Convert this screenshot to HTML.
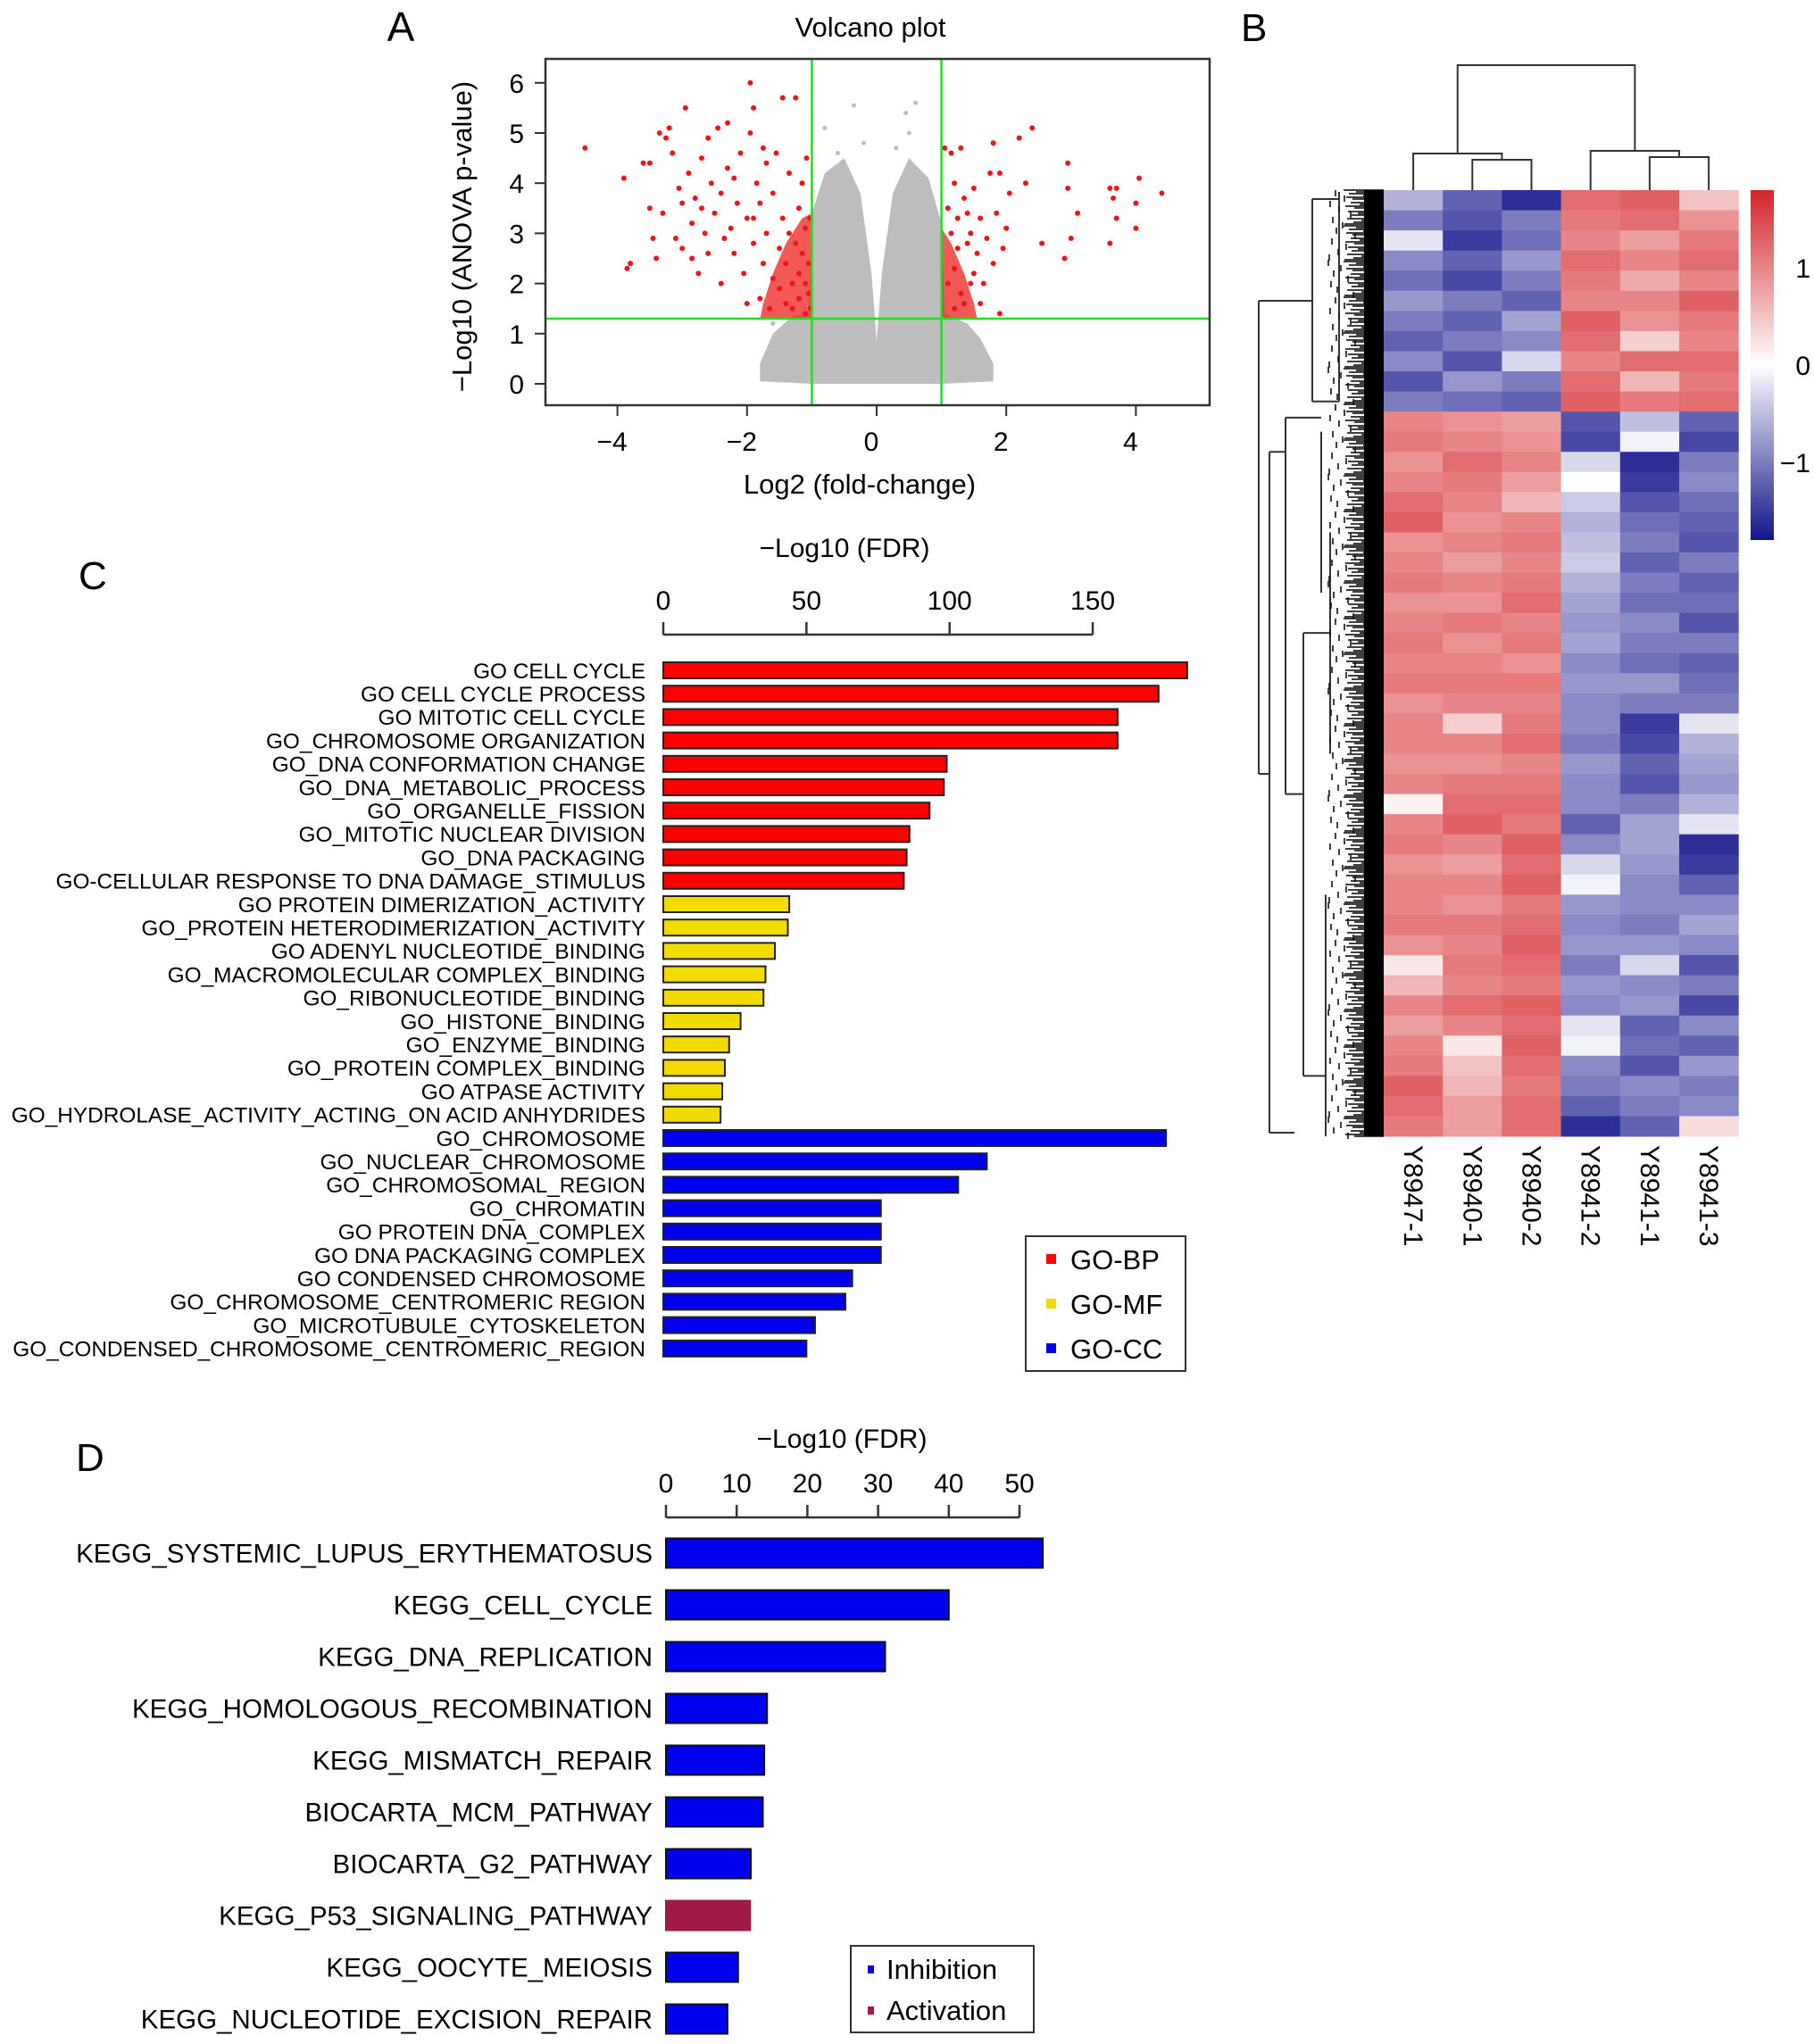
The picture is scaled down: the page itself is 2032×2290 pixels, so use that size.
<!DOCTYPE html>
<html><head><meta charset="utf-8">
<style>
html,body{margin:0;padding:0;background:#fff;}
svg{display:block;font-family:"Liberation Sans",Arial,sans-serif;}
</style></head>
<body>
<svg id="fig" width="2032" height="2290" viewBox="0 0 2032 2290" xmlns="http://www.w3.org/2000/svg">
<g id="pA"></g>
<g id="pB"></g>
<g id="pC"></g>
<g id="pD"></g>
</svg>
<script>
// ---------- Panel A data ----------
const volXTicks = [-4,-2,0,2,4];
const volYTicks = [0,1,2,3,4,5,6];
const volFCThreshold = [-1,1];
const volPThreshold = [1.3];
const grayEnvelope = [[-1.8,0.05],[-1.8,0.4],[-1.6,1.0],[-1.3,1.35],[-1.05,1.4],[-1.0,3.4],[-0.8,4.2],[-0.5,4.5],[-0.25,3.8],[-0.08,2.2],[0,0.85],[0.08,2.2],[0.25,3.8],[0.5,4.5],[0.8,4.1],[1.0,3.2],[1.05,1.4],[1.4,1.2],[1.6,0.9],[1.8,0.4],[1.8,0.05],[1.0,0],[-1.0,0]];
const grayPoints = [[-0.35,5.55],[0.45,5.4],[0.6,5.6],[0.5,5.0],[-0.8,5.1],[-0.2,4.8],[0.3,4.7],[-0.6,4.6],[1.7,0.2],[-1.7,0.3],[1.5,0.9],[-1.6,1.2]];
const redDenseLeft = [[-1.0,1.3],[-1.0,3.4],[-1.15,3.3],[-1.4,2.8],[-1.6,2.2],[-1.75,1.6],[-1.8,1.3]];
const redDenseRight = [[1.0,1.3],[1.0,3.1],[1.15,2.8],[1.35,2.2],[1.5,1.6],[1.55,1.3]];
const redPoints = [[-4.5,4.7],[-3.9,4.1],[-3.85,2.3],[-3.8,2.4],[-3.6,4.4],[-3.5,4.4],[-3.5,3.5],[-3.45,2.9],[-3.4,2.5],[-3.35,5.0],[-3.3,3.4],[-3.25,4.9],[-3.2,5.1],[-3.1,2.9],[-3.05,3.9],[-3.0,2.7],[-2.95,5.5],[-2.9,4.2],[-2.85,3.2],[-2.8,3.7],[-2.75,2.2],[-2.7,4.5],[-2.65,3.0],[-2.6,2.6],[-2.55,4.0],[-2.5,3.4],[-2.45,5.1],[-2.4,3.8],[-2.4,2.0],[-2.3,4.3],[-2.3,5.2],[-2.25,3.1],[-2.2,2.6],[-2.15,3.6],[-2.1,4.6],[-2.05,2.2],[-2.0,3.3],[-1.95,5.0],[-1.95,6.0],[-1.9,5.5],[-1.9,2.8],[-1.85,4.0],[-1.8,1.7],[-1.8,3.6],[-1.75,2.4],[-1.7,4.4],[-1.7,3.0],[-1.65,1.5],[-1.6,2.1],[-1.6,3.8],[-1.55,4.6],[-1.5,2.7],[-1.5,1.9],[-1.45,3.3],[-1.45,5.7],[-1.4,1.6],[-1.4,2.4],[-1.35,3.0],[-1.35,4.2],[-1.3,2.0],[-1.3,1.5],[-1.25,5.7],[-1.25,2.8],[-1.2,3.5],[-1.2,2.2],[-1.2,1.7],[-1.15,4.0],[-1.15,2.6],[-1.1,1.4],[-1.1,3.1],[-1.1,2.0],[-1.08,4.5],[-1.05,2.4],[-1.05,1.8],[-1.03,3.3],[-1.02,1.5],[-2.6,4.9],[-2.2,4.1],[-1.75,4.7],[-2.85,2.5],[-3.15,4.6],[-2.0,1.6],[-2.35,2.9],[-1.9,3.3],[-2.7,3.5],[-3.0,3.6],
[1.05,4.7],[1.1,3.5],[1.15,4.6],[1.2,2.3],[1.25,3.3],[1.3,4.7],[1.3,1.8],[1.35,3.7],[1.4,2.8],[1.45,3.0],[1.5,2.2],[1.5,3.9],[1.55,2.6],[1.6,1.6],[1.6,3.3],[1.65,2.0],[1.7,2.9],[1.75,4.2],[1.8,4.8],[1.8,2.4],[1.85,3.4],[1.9,4.2],[1.9,1.4],[1.95,2.7],[2.0,3.1],[2.05,3.8],[2.2,4.9],[2.3,4.0],[2.4,5.1],[2.55,2.8],[2.9,2.5],[2.95,3.9],[2.95,4.4],[3.0,2.9],[3.1,3.4],[3.6,3.9],[3.6,2.8],[3.65,3.7],[3.7,3.3],[3.7,3.9],[4.0,3.6],[4.0,3.1],[4.05,4.1],[4.4,3.8],[1.1,2.0],[1.2,1.5],[1.25,2.7],[1.35,1.6],[1.15,3.0],[1.45,2.0],[1.2,4.0],[1.4,3.4]];

// ---------- Panel B data ----------
const sampleLabels = ["Y8947-1","Y8940-1","Y8940-2","Y8941-2","Y8941-1","Y8941-3"];
const colorbarTicks = [1,0,-1];
const heatRows = [
[-0.6,-1.2,-1.6,1.2,1.3,0.5],
[-1.0,-1.3,-1.0,1.1,1.2,0.9],
[-0.2,-1.5,-1.1,1.0,0.8,1.1],
[-0.9,-1.2,-0.8,1.2,1.0,1.2],
[-1.1,-1.4,-1.0,1.1,0.7,1.0],
[-0.8,-1.0,-1.2,1.0,1.0,1.3],
[-1.0,-1.2,-0.7,1.3,0.9,1.1],
[-1.2,-1.0,-0.9,1.2,0.4,1.0],
[-0.9,-1.3,-0.3,1.0,1.2,1.2],
[-1.3,-0.8,-1.0,1.2,0.6,1.1],
[-1.0,-1.1,-1.2,1.3,1.1,1.2],
[1.0,0.9,0.8,-1.3,-0.5,-1.2],
[1.1,1.0,0.9,-1.4,-0.1,-1.4],
[0.9,1.2,1.0,-0.3,-1.6,-1.0],
[1.0,1.1,0.8,0.0,-1.5,-0.9],
[1.2,1.0,0.6,-0.4,-1.3,-1.1],
[1.3,0.9,1.0,-0.6,-1.1,-1.2],
[0.9,1.0,1.1,-0.5,-1.0,-1.3],
[1.0,0.8,1.0,-0.4,-1.2,-1.0],
[1.1,1.0,1.1,-0.6,-1.0,-1.2],
[0.9,0.9,1.2,-0.7,-1.1,-1.1],
[1.0,1.1,1.0,-0.8,-0.9,-1.3],
[1.1,0.9,1.1,-0.7,-1.0,-1.0],
[1.0,1.0,0.9,-0.9,-1.1,-1.2],
[1.1,1.1,1.1,-0.8,-0.8,-1.1],
[0.9,1.0,1.0,-0.9,-1.0,-1.0],
[1.0,0.4,1.1,-0.9,-1.5,-0.2],
[1.0,1.0,1.2,-1.0,-1.4,-0.6],
[0.9,0.9,1.0,-0.8,-1.2,-0.7],
[1.0,1.1,1.1,-0.9,-1.3,-0.8],
[0.1,1.2,1.2,-0.9,-1.0,-0.6],
[1.0,1.3,1.1,-1.2,-0.7,-0.2],
[1.1,1.0,1.3,-0.9,-0.7,-1.6],
[0.9,0.8,1.2,-0.3,-0.8,-1.5],
[1.0,1.0,1.3,-0.1,-0.9,-1.2],
[1.0,0.9,1.1,-0.8,-0.9,-0.9],
[1.1,1.1,1.2,-0.9,-1.0,-0.7],
[0.9,1.0,1.3,-0.8,-0.8,-0.9],
[0.2,1.1,1.2,-1.0,-0.3,-1.3],
[0.6,1.0,1.1,-0.8,-0.9,-1.0],
[1.0,1.2,1.3,-0.9,-0.8,-1.4],
[0.8,1.0,1.2,-0.2,-1.2,-0.9],
[1.0,0.2,1.3,-0.1,-1.1,-1.2],
[1.1,0.5,1.2,-0.9,-1.3,-0.8],
[1.3,0.6,1.1,-1.0,-0.9,-1.0],
[1.2,0.8,1.2,-1.2,-1.0,-0.9],
[1.1,0.8,1.2,-1.6,-1.2,0.3]];

// ---------- Panel C data ----------
const goTerms = ["GO CELL CYCLE","GO CELL CYCLE PROCESS","GO MITOTIC CELL CYCLE","GO_CHROMOSOME ORGANIZATION","GO_DNA CONFORMATION CHANGE","GO_DNA_METABOLIC_PROCESS","GO_ORGANELLE_FISSION","GO_MITOTIC NUCLEAR DIVISION","GO_DNA PACKAGING","GO-CELLULAR RESPONSE TO DNA DAMAGE_STIMULUS","GO PROTEIN DIMERIZATION_ACTIVITY","GO_PROTEIN HETERODIMERIZATION_ACTIVITY","GO ADENYL NUCLEOTIDE_BINDING","GO_MACROMOLECULAR COMPLEX_BINDING","GO_RIBONUCLEOTIDE_BINDING","GO_HISTONE_BINDING","GO_ENZYME_BINDING","GO_PROTEIN COMPLEX_BINDING","GO ATPASE ACTIVITY","GO_HYDROLASE_ACTIVITY_ACTING_ON ACID ANHYDRIDES","GO_CHROMOSOME","GO_NUCLEAR_CHROMOSOME","GO_CHROMOSOMAL_REGION","GO_CHROMATIN","GO PROTEIN DNA_COMPLEX","GO DNA PACKAGING COMPLEX","GO CONDENSED CHROMOSOME","GO_CHROMOSOME_CENTROMERIC REGION","GO_MICROTUBULE_CYTOSKELETON","GO_CONDENSED_CHROMOSOME_CENTROMERIC_REGION"];
const goValues = [183,173,158.7,158.7,99,98,93,86,85,84,44,43.5,39,35.7,35,27,23,21.5,20.6,20,175.6,113,103,76,76,76,66,63.6,53,50];
const goCategory = ["BP","BP","BP","BP","BP","BP","BP","BP","BP","BP","MF","MF","MF","MF","MF","MF","MF","MF","MF","MF","CC","CC","CC","CC","CC","CC","CC","CC","CC","CC"];
const goTicks = [0,50,100,150];
const goLegend = ["GO-BP","GO-MF","GO-CC"];

// ---------- Panel D data ----------
const keggTerms = ["KEGG_SYSTEMIC_LUPUS_ERYTHEMATOSUS","KEGG_CELL_CYCLE","KEGG_DNA_REPLICATION","KEGG_HOMOLOGOUS_RECOMBINATION","KEGG_MISMATCH_REPAIR","BIOCARTA_MCM_PATHWAY","BIOCARTA_G2_PATHWAY","KEGG_P53_SIGNALING_PATHWAY","KEGG_OOCYTE_MEIOSIS","KEGG_NUCLEOTIDE_EXCISION_REPAIR"];
const keggValues = [53.3,40,31,14.3,13.9,13.7,12,11.9,10.2,8.7];
const keggDirection = ["Inhibition","Inhibition","Inhibition","Inhibition","Inhibition","Inhibition","Inhibition","Activation","Inhibition","Inhibition"];
const keggTicks = [0,10,20,30,40,50];
const keggLegend = ["Inhibition","Activation"];

const NS="http://www.w3.org/2000/svg";
function mk(parent,tag,attrs,text){const e=document.createElementNS(NS,tag);for(const k in attrs)e.setAttribute(k,attrs[k]);if(text!==undefined)e.textContent=text;parent.appendChild(e);return e;}

// ===== Panel A =====
(function(){
const g=document.getElementById('pA');
const X=v=>982+v*72.6, Y=v=>430-v*56.2;
const L=611,R=1355,T=66,B=454;
let t=mk(g,'text',{x:449,y:46,'font-size':46,'text-anchor':'middle'},'A');

t=mk(g,'text',{x:975,y:41,'font-size':31,'text-anchor':'middle'},'Volcano plot');

let p=mk(g,'polygon',{points:grayEnvelope.map(d=>X(d[0])+','+Y(d[1])).join(' '),fill:'#bdbdbd'});

grayPoints.forEach(d=>{const c=mk(g,'circle',{cx:X(d[0]),cy:Y(d[1]),r:2.5,fill:'#bdbdbd'});});
[redDenseLeft,redDenseRight].forEach(arr=>{const q=mk(g,'polygon',{points:arr.map(d=>X(d[0])+','+Y(d[1])).join(' '),fill:'#ee2020','fill-opacity':0.75});});
redPoints.forEach(d=>{const c=mk(g,'circle',{cx:X(d[0]),cy:Y(d[1]),r:3,fill:'#f01515'});});
volFCThreshold.forEach(v=>{const l=mk(g,'line',{x1:X(v),x2:X(v),y1:T,y2:B,stroke:'#22dd22','stroke-width':2.5});});
volPThreshold.forEach(v=>{const l=mk(g,'line',{x1:L,x2:R,y1:Y(v),y2:Y(v),stroke:'#22dd22','stroke-width':2.5});});
let r=mk(g,'rect',{x:L,y:T,width:R-L,height:B-T,fill:'none',stroke:'#333','stroke-width':2.5});

volXTicks.forEach(v=>{mk(g,'line',{x1:X(v),x2:X(v),y1:B,y2:B+12,stroke:'#333','stroke-width':2});const s=mk(g,'text',{x:X(v)-6,y:505,'font-size':30,'text-anchor':'middle'},(v<0?'\u2212':'')+Math.abs(v));});
volYTicks.forEach(v=>{mk(g,'line',{x1:L-12,x2:L,y1:Y(v),y2:Y(v),stroke:'#333','stroke-width':2});const s=mk(g,'text',{x:587,y:Y(v)+11,'font-size':30,'text-anchor':'end'},v);});
t=mk(g,'text',{x:963,y:553,'font-size':31,'text-anchor':'middle'},'Log2 (fold-change)');

t=mk(g,'text',{x:0,y:0,'font-size':31,'text-anchor':'middle',transform:'translate(528,265) rotate(-90)'},'\u2212Log10 (ANOVA p-value)');

})();

// ===== Panel B =====
(function(){
const g=document.getElementById('pB');
const HX=1550,HT=213,HB=1273,CW=66.2;
const rh=(HB-HT)/heatRows.length;
function col(v){const m=Math.max(-1.8,Math.min(1.8,v))/1.8;let c;if(m>=0){c=[255+(212-255)*m,255+(36-255)*m,255+(40-255)*m];}else{const a=-m;c=[255+(20-255)*a,255+(20-255)*a,255+(140-255)*a];}return 'rgb('+c.map(Math.round).join(',')+')';}
let t=mk(g,'text',{x:1390,y:46,'font-size':44},'B');

heatRows.forEach((row,i)=>{row.forEach((v,j)=>{const c=mk(g,'rect',{x:HX+j*CW,y:HT+i*rh,width:CW+0.5,height:rh+0.5,fill:col(v)});});});
const cx=j=>HX+(j+0.5)*CW;
const dpath=`M${cx(0)},${HT} V172 H${(cx(1)+cx(2))/2} V179 M${cx(1)},${HT} V179 H${cx(2)} V${HT}
M${(cx(0)+(cx(1)+cx(2))/2)/2},172 V73 H${(cx(3)+(cx(4)+cx(5))/2)/2} V169
M${cx(3)},${HT} V169 H${(cx(4)+cx(5))/2} V176 M${cx(4)},${HT} V176 H${cx(5)} V${HT}`;
let d=mk(g,'path',{d:dpath,fill:'none',stroke:'#333','stroke-width':2});

const topMid=HT+5.5*rh, botMid=HT+(11+18)*rh;
const rpath=`M1410,${topMid} V${botMid} M1410,${topMid} H1470 M1410,${botMid} H1422
M1470,${HT+10} V${HT+10.5*rh} M1470,${HT+10} H1500 M1470,${HT+10.5*rh} H1500
M1422,${HT+13*rh} V${HB-4} M1422,${HT+13*rh} H1440 M1422,${HB-4} H1450
M1440,${HT+11.3*rh} V${HT+30*rh} M1440,${HT+11.3*rh} H1480 M1440,${HT+30*rh} H1460
M1460,${HT+22*rh} V${HT+44*rh} M1460,${HT+22*rh} H1490 M1460,${HT+44*rh} H1485
M1480,${HT+12*rh} V${HT+20*rh} M1490,${HT+17*rh} V${HT+28*rh} M1485,${HT+35*rh} V${HT+47*rh}
M1500,${HT+2} V${HT+6*rh} M1500,${HT+6*rh} V${HT+10.5*rh}`;
d=mk(g,'path',{d:rpath,fill:'none',stroke:'#333','stroke-width':2});

const leaves=mk(g,'g',{});

const offs=[0,14,6,22,3,10,28,8,18,2,12,25,5,16,9,30,4,20,11,1];
for(let y=HT,k=0;y<=HB;y+=2,k++){mk(leaves,'line',{x1:1505+offs[k%offs.length],x2:HX,y1:y,y2:y,stroke:'#000','stroke-width':1.4});}
mk(leaves,'rect',{x:1528,y:HT,width:HX-1528,height:HB-HT,fill:'#000'});
for(let y=HT,k=0;y<=HB;y+=6,k++){mk(leaves,'line',{x1:1488+offs[(k+7)%offs.length],x2:1488+offs[(k+7)%offs.length],y1:y,y2:y+7,stroke:'#111','stroke-width':1.6});}
sampleLabels.forEach((s,j)=>{const tt=mk(g,'text',{x:0,y:0,'font-size':30,transform:`translate(${cx(j)-10},1283) rotate(90)`},s);});
const defs=mk(g,'defs',{});const lg=mk(defs,'linearGradient',{id:'cb',x1:0,y1:0,x2:0,y2:1});
[[0,1.8],[0.5,0],[1,-1.8]].forEach(s=>mk(lg,'stop',{offset:s[0],'stop-color':col(s[1])}));
const cbT=213,cbB=605,CY=v=>cbT+(1.8-v)/3.6*(cbB-cbT);
let cb=mk(g,'rect',{x:1961,y:cbT,width:26,height:cbB-cbT,fill:'url(#cb)'});

colorbarTicks.forEach(v=>{const tt=mk(g,'text',{x:2028,y:CY(v)+11,'font-size':30,'text-anchor':'end'},v<0?'\u2212'+Math.abs(v):String(v));});
})();

function hbar(g,opt){
const X=v=>opt.x0+v*opt.scale;
let t=mk(g,'text',{x:opt.labelX,y:opt.labelY,'font-size':44},opt.panel);

t=mk(g,'text',{x:opt.titleX,y:opt.titleY,'font-size':30,'text-anchor':'middle'},'\u2212Log10 (FDR)');

const ax=mk(g,'line',{x1:X(opt.ticks[0]),x2:X(opt.ticks[opt.ticks.length-1]),y1:opt.axisY,y2:opt.axisY,stroke:'#333','stroke-width':2.5});

opt.ticks.forEach(v=>{mk(g,'line',{x1:X(v),x2:X(v),y1:opt.axisY-14,y2:opt.axisY,stroke:'#333','stroke-width':2.5});const s=mk(g,'text',{x:X(v),y:opt.axisY-28,'font-size':30,'text-anchor':'middle'},v);});
opt.terms.forEach((name,i)=>{const cy=opt.y0+i*opt.step;
const b=mk(g,'rect',{x:X(0),y:cy-opt.bh/2,width:X(opt.values[i])-X(0),height:opt.bh,fill:opt.color(i),stroke:opt.stroke(i),'stroke-width':2});

const s=mk(g,'text',{x:opt.textRight,y:cy+opt.fs*0.36,'font-size':opt.fs,'text-anchor':'end'},name);
});
}

(function(){
const g=document.getElementById('pC');
const catColor={BP:'#ff0000',MF:'#f2dc00',CC:'#0000ee'};
hbar(g,{panel:'C',labelX:88,labelY:660,titleX:946,titleY:624,x0:743,scale:3.207,axisY:711,ticks:goTicks,terms:goTerms,values:goValues,y0:751,step:26.2,bh:18,textRight:723,fs:24.4,color:i=>catColor[goCategory[i]],stroke:i=>'#222'});
const lgd=mk(g,'g',{});
mk(lgd,'rect',{x:1149,y:1385,width:179,height:151,fill:'#fff',stroke:'#333','stroke-width':2});
goLegend.forEach((n,i)=>{const y=1411+i*50;const e=mk(lgd,'g',{});
mk(e,'rect',{x:1172,y:y-6,width:11,height:11,fill:catColor[n.slice(3)]});
mk(e,'text',{x:1199,y:y+11,'font-size':31},n);});
})();

(function(){
const g=document.getElementById('pD');
const dirColor={Inhibition:'#0000f0',Activation:'#a01a48'};
hbar(g,{panel:'D',labelX:85,labelY:1648,titleX:943,titleY:1622,x0:746,scale:7.92,axisY:1700,ticks:keggTicks,terms:keggTerms,values:keggValues,y0:1740,step:58,bh:33,textRight:731,fs:29.5,color:i=>dirColor[keggDirection[i]],stroke:i=>keggDirection[i]==='Activation'?'#a01a48':'#111'});
const lgd=mk(g,'g',{});
mk(lgd,'rect',{x:953,y:2180,width:205,height:97,fill:'#fff',stroke:'#333','stroke-width':2});
keggLegend.forEach((n,i)=>{const y=2206+i*46;const e=mk(lgd,'g',{});
mk(e,'rect',{x:972,y:y-4,width:7,height:9,fill:dirColor[n]});
mk(e,'text',{x:993,y:y+11,'font-size':31},n);});
})();
</script>
</body></html>
